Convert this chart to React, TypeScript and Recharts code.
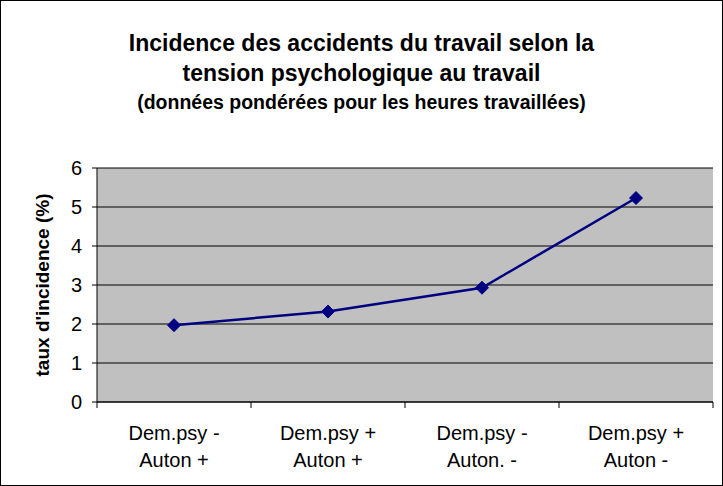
import {
  LineChart,
  Line,
  XAxis,
  YAxis,
  CartesianGrid,
} from 'recharts'

const categories = [
  'Dem.psy -\nAuton +',
  'Dem.psy +\nAuton +',
  'Dem.psy -\nAuton. -',
  'Dem.psy +\nAuton -',
]
const incidence = [1.97, 2.32, 2.93, 5.23]
const yTicks = [0, 1, 2, 3, 4, 5, 6]

const data = categories.map((name, i) => ({ name, taux: incidence[i] }))

const FONT = 'Liberation Sans, Arial, sans-serif'

function CategoryTick(props: any) {
  const { x, y, payload, index } = props
  const half = payload?.offset || 77
  const lines = String(payload.value).split('\n')
  return (
    <g>
      <line x1={x - half} x2={x - half} y1={y} y2={y + 6} stroke="#000" />
      {index === categories.length - 1 && (
        <line x1={x + half} x2={x + half} y1={y} y2={y + 6} stroke="#000" />
      )}
      {lines.map((l, i) => (
        <text
          key={i}
          x={x}
          y={y + 38 + i * 27}
          textAnchor="middle"
          fontSize={20}
          fontFamily={FONT}
          fill="#000"
        >
          {l}
        </text>
      ))}
    </g>
  )
}

function Diamond(props: any) {
  const { cx, cy } = props
  if (cx == null || cy == null) return null
  const r = 6.5
  return (
    <polygon
      points={`${cx},${cy - r} ${cx + r},${cy} ${cx},${cy + r} ${cx - r},${cy}`}
      fill="#000080"
      stroke="#000080"
    />
  )
}

export default function App() {
  return (
    <div style={{ position: 'absolute', left: 0, top: 0, width: 723, height: 486, background: '#fff' }}>
      <div
        style={{
          position: 'absolute',
          left: 0,
          top: 28,
          width: 723,
          textAlign: 'center',
          fontFamily: FONT,
          fontWeight: 'bold',
          color: '#000',
        }}
      >
        <div style={{ fontSize: 23, lineHeight: '30px' }}>
          Incidence des accidents du travail selon la
        </div>
        <div style={{ fontSize: 23, lineHeight: '30px' }}>
          tension psychologique au travail
        </div>
        <div style={{ fontSize: 19.5, lineHeight: '28px' }}>
          (données pondérées pour les heures travaillées)
        </div>
      </div>
      <div style={{ position: 'absolute', left: 0, top: 0 }}>
        <LineChart
          width={723}
          height={486}
          data={data}
          margin={{ top: 168, right: 10, left: 0, bottom: 0 }}
        >
          <CartesianGrid
            vertical={false}
            stroke="#000"
            fill="#C0C0C0"
            fillOpacity={1}
          />
          <XAxis
            dataKey="name"
            scale="band"
            height={84}
            axisLine={{ stroke: '#000' }}
            tickLine={false}
            tickSize={0}
            tickMargin={0}
            interval={0}
            tick={<CategoryTick />}
          />
          <YAxis
            width={97}
            domain={[0, 6]}
            ticks={yTicks}
            allowDataOverflow
            axisLine={{ stroke: '#000' }}
            tickLine={{ stroke: '#000' }}
            tickSize={5}
            tickMargin={10}
            tick={{ fill: '#000', fontSize: 20, fontFamily: FONT }}
            label={{
              content: ({ viewBox }: any) => (
                <text
                  x={viewBox.x + 49}
                  y={viewBox.y + viewBox.height / 2}
                  transform={`rotate(-90, ${viewBox.x + 49}, ${viewBox.y + viewBox.height / 2})`}
                  textAnchor="middle"
                  fontSize={19}
                  fontWeight="bold"
                  fontFamily={FONT}
                  fill="#000"
                >
                  taux d'incidence (%)
                </text>
              ),
            }}
          />
          <YAxis
            yAxisId="border"
            orientation="right"
            width={0}
            domain={[0, 6]}
            axisLine={{ stroke: '#000' }}
            tick={false}
            tickLine={false}
          />
          <Line
            type="linear"
            dataKey="taux"
            stroke="#000080"
            strokeWidth={2.5}
            dot={<Diamond />}
            activeDot={false}
            isAnimationActive={false}
          />
        </LineChart>
      </div>
      <div
        style={{
          position: 'absolute',
          left: 0,
          top: 0,
          width: 723,
          height: 486,
          boxSizing: 'border-box',
          border: '1px solid #000',
          pointerEvents: 'none',
        }}
      />
    </div>
  )
}
